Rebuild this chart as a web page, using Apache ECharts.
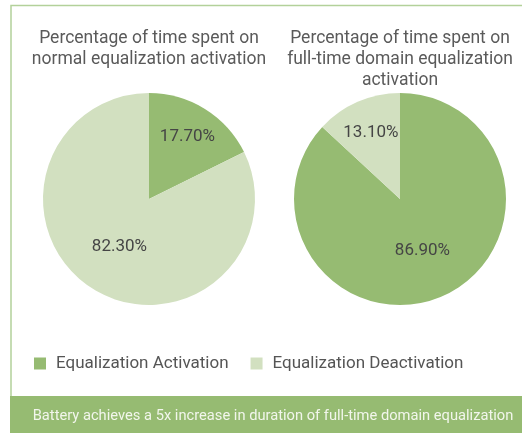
<!DOCTYPE html>
<html>
<head>
<meta charset="utf-8">
<script src="https://cdn.jsdelivr.net/npm/echarts@6/dist/echarts.min.js"></script>
<style>
  html, body { margin: 0; padding: 0; background: #fff; }
  #chart { width: 522px; height: 433px; }
</style>
</head>
<body>
<div id="chart"></div>
<script>
const categories = ['Equalization Activation', 'Equalization Deactivation']
const normalValues = [17.7, 82.3]
const fullTimeValues = [86.9, 13.1]
const titles = [
  'Percentage of time spent on\nnormal equalization activation',
  'Percentage of time spent on\nfull-time domain equalization\nactivation'
]
const footnote = 'Battery achieves a 5x increase in duration of full-time domain equalization'

const colors = ['#96BB72', '#D2E0C0']
const centers = [[149, 199], [400, 199]]
const seriesValues = [normalValues, fullTimeValues]

const chart = echarts.init(document.getElementById('chart'))

// small slices get their label pushed out towards the rim
function pushLabel(p) {
  const v = seriesValues[p.seriesIndex][p.dataIndex]
  if (v > 50) return {}
  const c = centers[p.seriesIndex]
  const cx = p.labelRect.x + p.labelRect.width / 2
  const cy = p.labelRect.y + p.labelRect.height / 2
  const k = 0.3
  return { dx: (cx - c[0]) * k, dy: (cy - c[1]) * k }
}

function pieSeries(values, idx) {
  return {
    type: 'pie',
    center: centers[idx],
    radius: 106,
    startAngle: 90,
    clockwise: true,
    animation: false,
    silent: true,
    data: categories.map((name, i) => ({ name, value: values[i], itemStyle: { color: colors[i] } })),
    label: {
      show: true,
      position: 'inside',
      formatter: p => p.value.toFixed(2) + '%',
      fontFamily: 'Roboto',
      fontSize: 17,
      color: '#454545'
    },
    labelLayout: pushLabel,
    labelLine: { show: false },
    emphasis: { disabled: true }
  }
}

chart.setOption({
  color: colors,
  title: titles.map((t, i) => ({
    text: t,
    left: centers[i][0],
    top: 28,
    padding: 0,
    textAlign: 'center',
    textStyle: {
      fontFamily: 'Roboto',
      fontSize: 17.5,
      fontWeight: 'normal',
      color: '#5a5a5a',
      lineHeight: 21
    }
  })),
  legend: {
    data: categories,
    left: 29,
    top: 350,
    icon: 'rect',
    itemWidth: 12,
    itemHeight: 12,
    itemGap: 22,
    selectedMode: false,
    textStyle: { fontFamily: 'Roboto', fontSize: 17, color: '#555', padding: [0, 0, 0, 5] }
  },
  graphic: [
    {
      type: 'polyline',
      shape: { points: [[11, 396], [11, 5.5], [522, 5.5]] },
      style: { stroke: '#B3D19A', lineWidth: 1.5, fill: null },
      silent: true
    },
    {
      type: 'rect',
      shape: { x: 10, y: 396, width: 512, height: 37 },
      style: { fill: '#96BB72' },
      silent: true
    },
    {
      type: 'text',
      x: 273,
      y: 416,
      style: {
        text: footnote,
        fill: '#F2F6EC',
        font: '14.7px Roboto',
        textAlign: 'center',
        textVerticalAlign: 'middle'
      },
      silent: true
    }
  ],
  series: [pieSeries(normalValues, 0), pieSeries(fullTimeValues, 1)]
})
</script>
</body>
</html>
